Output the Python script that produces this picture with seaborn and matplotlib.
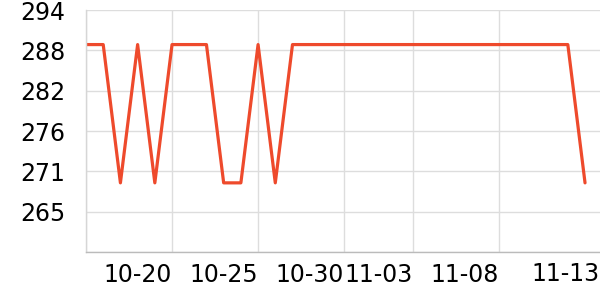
import matplotlib
matplotlib.use("Agg")
import matplotlib.pyplot as plt
import matplotlib.dates as mdates
import seaborn as sns
import pandas as pd
import numpy as np

dates = pd.date_range("2023-10-15", "2023-11-13", freq="D")
values = [289, 289, 269, 289, 269, 289, 289, 289, 269, 269,
          289, 269, 289, 289, 289, 289, 289, 289, 289, 289,
          289, 289, 289, 289, 289, 289, 289, 289, 289, 269]
x_tick_dates = ["2023-10-15", "2023-10-20", "2023-10-25", "2023-10-30", "2023-11-03", "2023-11-08"]
x_tick_labels = ["", "10-20", "10-25", "10-30", "11-03", "11-08"]
last_label = "11-13"
y_min, y_max = 259, 294
y_tick_labels = ["", "265", "271", "276", "282", "288", "294"]

df = pd.DataFrame({"date": dates, "value": values})

sns.set_style("whitegrid")
plt.rcParams["font.family"] = ["DejaVu Sans"]

fig = plt.figure(figsize=(6, 3), dpi=100)
ax = fig.add_axes([86 / 600, 1 - 252 / 300, 1 - 86 / 600, (252 - 10) / 300])

sns.lineplot(data=df, x="date", y="value", ax=ax, color="#ee4a2c", linewidth=2.3)

ax.set_xlim(pd.Timestamp("2023-10-15"), pd.Timestamp("2023-11-13") + pd.Timedelta(days=0.87))
ax.set_ylim(y_min, y_max)
yt = np.linspace(y_min, y_max, 7)
ax.set_yticks(yt)
ax.set_yticklabels(y_tick_labels)
ax.set_xticks([mdates.date2num(pd.Timestamp(d)) for d in x_tick_dates])
ax.set_xticklabels(x_tick_labels, ha="right")

ax.set_xlabel("")
ax.set_ylabel("")
ax.grid(True, color="#dddddd", linewidth=1)
for s in ["top", "right"]:
    ax.spines[s].set_visible(False)
ax.spines["left"].set_color("#d6d6d6")
ax.spines["bottom"].set_color("#bbbbbb")
ax.spines["left"].set_linewidth(1)
ax.spines["bottom"].set_linewidth(1)
ax.tick_params(axis="y", length=4, color="#d6d6d6", pad=11, labelsize=17, labelcolor="black")
ax.tick_params(axis="x", length=4, color="#bbbbbb", pad=4, labelsize=17, labelcolor="black")
ax.text(1.0, 1 - 274 / 300, last_label, transform=fig.transFigure, ha="right", va="center",
        fontsize=17, color="black")

fig.savefig("out.png", dpi=100)
